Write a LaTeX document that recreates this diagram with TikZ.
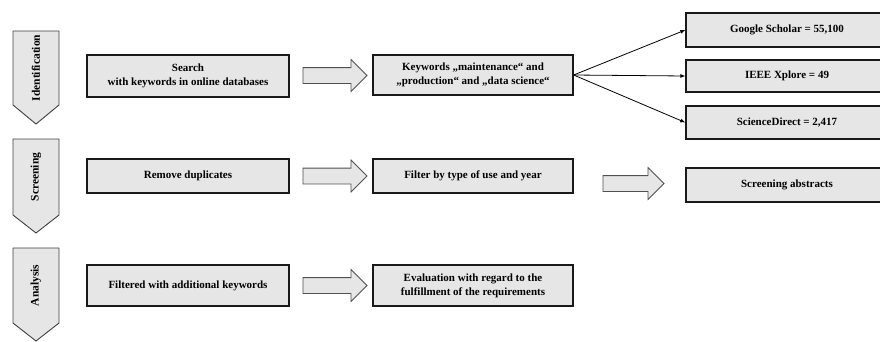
\documentclass[tikz,border=0pt]{standalone}
\usepackage{fontspec}
\setmainfont{Liberation Serif}
\usetikzlibrary{shapes.arrows,arrows.meta,calc}
\definecolor{boxfill}{HTML}{E6E6E6}
\definecolor{chevline}{HTML}{404040}
\definecolor{arrline}{HTML}{505050}
\tikzset{
  stepbox/.style={draw=black!90, line width=1.3pt, fill=boxfill, minimum width=202pt, inner sep=0pt, align=center, font=\bfseries\fontsize{11}{14}\selectfont},
  blockarrow/.style={single arrow, draw=arrline, line width=0.8pt, fill=boxfill, minimum width=31pt, single arrow head extend=8pt, single arrow tip angle=90, inner sep=7.5pt, minimum height=64pt, anchor=center},
  chevron/.style={draw=chevline, line width=0.9pt, fill=boxfill},
  chevtext/.style={rotate=90, font=\bfseries\fontsize{11.5}{13}\selectfont},
  fan/.style={line width=0.8pt, -{Latex[length=5pt,width=4pt]}},
}
\begin{document}
\begin{tikzpicture}[x=1pt,y=-1pt]
\useasboundingbox (0,0) rectangle (880,341);
\clip (0,0) rectangle (880,341);
% chevrons
\draw[chevron] (13,31) -- (59,31) -- (59,105) -- (36,124) -- (13,105) -- cycle;
\node[chevtext] (phase1) at (36,68) {Identification};
\draw[chevron] (13,139) -- (59,139) -- (59,215) -- (36,233) -- (13,215) -- cycle;
\node[chevtext] (phase2) at (36,177) {Screening};
\draw[chevron] (13,248) -- (59,248) -- (59,323) -- (36,341) -- (13,323) -- cycle;
\node[chevtext] (phase3) at (36,285.5) {Analysis};
% row 1
\node[stepbox, minimum height=42pt] (search) at (188,76) {Search\\with keywords in online databases};
\node[stepbox, minimum width=200pt, minimum height=40pt] (kw) at (473,75) {Keywords „maintenance“ and\\„production“ and „data science“};
\node[stepbox, minimum height=34pt] (gs) at (787,30) {Google Scholar = 55,100};
\node[stepbox, minimum height=32pt] (ieee) at (787,76) {IEEE Xplore = 49};
\node[stepbox, minimum height=33pt] (sd) at (787,122.5) {ScienceDirect = 2,417};
\node[blockarrow] (a1) at ($(search.east)!0.5!(kw.west)$) {};
\draw[fan] (kw.east) -- (gs.west);
\draw[fan] (kw.east) -- (ieee.west);
\draw[fan] (kw.east) -- (sd.west);
% row 2
\node[stepbox, minimum height=34pt] (dup) at (188,176) {Remove duplicates};
\node[stepbox, minimum width=200pt, minimum height=34pt] (filt) at (473,176) {Filter by type of use and year};
\node[stepbox, minimum height=34pt] (abs) at (787,185) {Screening abstracts};
\node[blockarrow] (a2) at ($(dup.east)!0.5!(filt.west)$) {};
\node[blockarrow, minimum height=61pt] (a3) at ($(filt.east)!0.5!(abs.west)+(0,3)$) {};
% row 3
\node[stepbox, minimum height=41pt] (add) at (188,285.5) {Filtered with additional keywords};
\node[stepbox, minimum width=200pt, minimum height=41pt] (eval) at (473,285.5) {Evaluation with regard to the\\fulfillment of the requirements};
\node[blockarrow] (a4) at ($(add.east)!0.5!(eval.west)$) {};
\end{tikzpicture}
\end{document}
